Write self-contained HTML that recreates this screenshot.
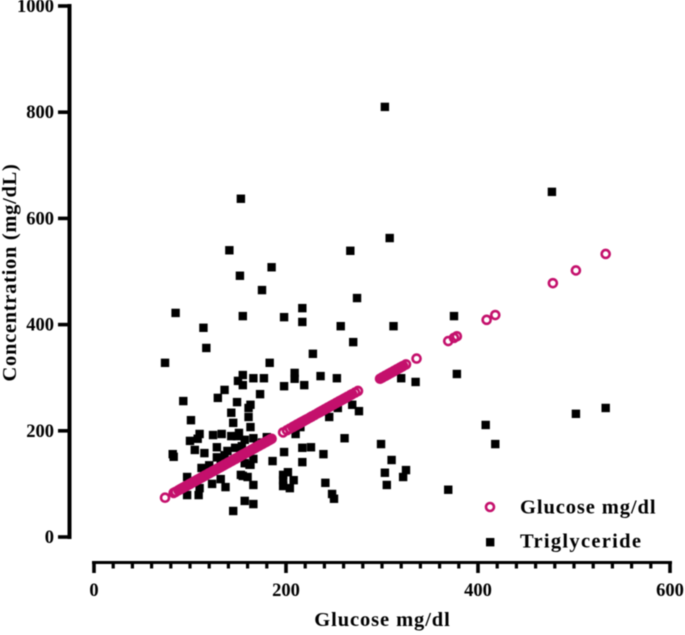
<!DOCTYPE html>
<html><head><meta charset="utf-8"><style>
html,body{margin:0;padding:0;background:#fff;width:685px;height:635px;overflow:hidden}
svg{display:block;filter:blur(0.5px)}
text{font-family:"Liberation Serif",serif;font-weight:bold;fill:#000}
</style></head><body>
<svg id="chart" width="685" height="635" viewBox="0 0 685 635" xmlns="http://www.w3.org/2000/svg"></svg>
<script>
const xTickLabels = [0, 200, 400, 600];
const yTickLabels = [0, 200, 400, 600, 800, 1000];
const xMinorTicks = [20,40,60,80,100,120,140,160,180,220,240,260,280,300,320,340,360,380,420,440,460,480,500,520,540,560,580];
const glucoseValues = [74,83,85,88,90,92,93,95,96,97,99,100,101,103,104,105,107,108,109,111,112,113,115,116,117,119,120,121,123,124,125,127,128,129,131,132,133,135,136,137,139,140,141,143,144,145,147,148,149,151,152,153,155,156,157,159,160,161,163,164,165,167,168,169,171,172,173,175,176,177,179,180,181,183,184,185,197,201,204,207,209,211,212,214,215,217,218,220,222,225,227,230,233,235,237,238,240,241,243,244,246,247,249,250,252,253,255,256,258,260,262,264,267,269,272,275,298,300,301,303,304,306,307,309,310,312,313,315,316,318,319,321,322,325,336,369,375,378,409,418,478,502,533];
const trigX = [303,477,153,308,141,267,185,152,175,274,217,217,85,155,198,375,257,312,114,270,117,74,183,228,166,177,155,155,198,209,209,219,236,253,173,163,161,161,163,245,254,269,276,210,215,261,320,335,299,310,303,325,322,305,198,217,226,239,186,217,166,162,160,166,155,202,197,197,197,204,208,241,248,250,157,166,369,378,502,533,408,418,150,136,129,149,93,143,101,145,110,100,108,124,133,143,151,149,157,166,128,105,115,139,136,147,154,82,83,112,97,110,109,97,123,132,137,157,163,153,145,120,170,175,180,128,132];
const trigY = [810,650,637,563,540,539,508,492,465,450,431,405,422,416,414,416,397,397,394,367,356,328,328,345,299,299,305,286,284,309,298,286,303,299,269,249,243,226,207,226,243,249,237,194,207,186,299,292,175,145,121,126,113,98,160,168,169,156,143,141,147,136,113,98,115,122,117,107,96,92,107,102,81,72,68,62,89,307,232,243,211,175,294,277,262,254,256,234,220,215,194,181,185,192,194,190,196,190,183,186,169,164,158,162,154,168,171,156,151,130,113,92,79,79,100,109,94,139,136,117,49,135,172,178,188,150,140];

const svg = document.getElementById('chart');
const NS = 'http://www.w3.org/2000/svg';
const xScale = v => 94 + v * 0.96;
const yScale = v => 537 - v * 0.531;

function make(tag, attrs, parent) {
  const el = document.createElementNS(NS, tag);
  for (const k in attrs) el.setAttribute(k, attrs[k]);
  (parent || svg).appendChild(el);
  return el;
}

const yAxis = make('g', {});


make('line', {x1:69.5, x2:69.5, y1:yScale(1000)-2, y2:yScale(0)+2, stroke:'#000', 'stroke-width':4}, yAxis);
yTickLabels.forEach(v => {
  make('line', {x1:58, x2:70, y1:yScale(v), y2:yScale(v), stroke:'#000', 'stroke-width':3.6}, yAxis);
  const t = make('text', {x:54, y:yScale(v)+6, 'text-anchor':'end', 'font-size':18.5}, yAxis);
  t.textContent = v;
});

const xAxis = make('g', {});


make('line', {x1:xScale(0)-2, x2:xScale(600)+2, y1:562.5, y2:562.5, stroke:'#000', 'stroke-width':3}, xAxis);
xTickLabels.forEach(v => {
  make('line', {x1:xScale(v), x2:xScale(v), y1:562, y2:573, stroke:'#000', 'stroke-width':3.6}, xAxis);
  const t = make('text', {x:xScale(v), y:596, 'text-anchor':'middle', 'font-size':18.5}, xAxis);
  t.textContent = v;
});
xMinorTicks.forEach(v => {
  make('line', {x1:xScale(v), x2:xScale(v), y1:562, y2:568.5, stroke:'#000', 'stroke-width':3.2}, xAxis);
});

const trigGroup = make('g', {});


trigX.forEach((x, i) => {
  make('rect', {x:xScale(x)-4.2, y:yScale(trigY[i])-4.2, width:8.4, height:8.4, fill:'#000'}, trigGroup);
});

const glucGroup = make('g', {});


glucoseValues.forEach(v => {
  make('circle', {cx:xScale(v), cy:yScale(v), r:4, fill:'none', stroke:'#c4106c', 'stroke-width':2.6}, glucGroup);
});
</script>
<script>
(function(){
  const s = document.getElementById('chart');
  const ns = 'http://www.w3.org/2000/svg';

  const yTitle = document.createElementNS(ns, 'text');
  
  
  yTitle.setAttribute('transform', 'translate(16,272.5) rotate(-90)');
  yTitle.setAttribute('text-anchor', 'middle');
  yTitle.setAttribute('font-size', '20.5');
  yTitle.setAttribute('letter-spacing', '0.7');
  yTitle.textContent = 'Concentration (mg/dL)';
  s.appendChild(yTitle);

  const xTitle = document.createElementNS(ns, 'text');
  
  
  xTitle.setAttribute('x', '382.5');
  xTitle.setAttribute('y', '626');
  xTitle.setAttribute('text-anchor', 'middle');
  xTitle.setAttribute('font-size', '20.5');
  xTitle.setAttribute('letter-spacing', '0.9');
  xTitle.textContent = 'Glucose mg/dl';
  s.appendChild(xTitle);

  const legendCircle = document.createElementNS(ns, 'circle');
  
  
  legendCircle.setAttribute('cx', '490');
  legendCircle.setAttribute('cy', '507');
  legendCircle.setAttribute('r', '4');
  legendCircle.setAttribute('fill', 'none');
  legendCircle.setAttribute('stroke', '#c4106c');
  legendCircle.setAttribute('stroke-width', '2.6');
  s.appendChild(legendCircle);

  const legendGlucose = document.createElementNS(ns, 'text');
  
  
  legendGlucose.setAttribute('x', '520');
  legendGlucose.setAttribute('y', '513.5');
  legendGlucose.setAttribute('font-size', '20.5');
  legendGlucose.setAttribute('letter-spacing', '0.9');
  legendGlucose.textContent = 'Glucose mg/dl';
  s.appendChild(legendGlucose);

  const legendSquare = document.createElementNS(ns, 'rect');
  
  
  legendSquare.setAttribute('x', '486');
  legendSquare.setAttribute('y', '538');
  legendSquare.setAttribute('width', '8.4');
  legendSquare.setAttribute('height', '8.4');
  legendSquare.setAttribute('fill', '#000');
  s.appendChild(legendSquare);

  const legendTrig = document.createElementNS(ns, 'text');
  
  
  legendTrig.setAttribute('x', '520');
  legendTrig.setAttribute('y', '547.5');
  legendTrig.setAttribute('font-size', '20.5');
  legendTrig.setAttribute('letter-spacing', '1.3');
  legendTrig.textContent = 'Triglyceride';
  s.appendChild(legendTrig);
})();
</script>
</body></html>
